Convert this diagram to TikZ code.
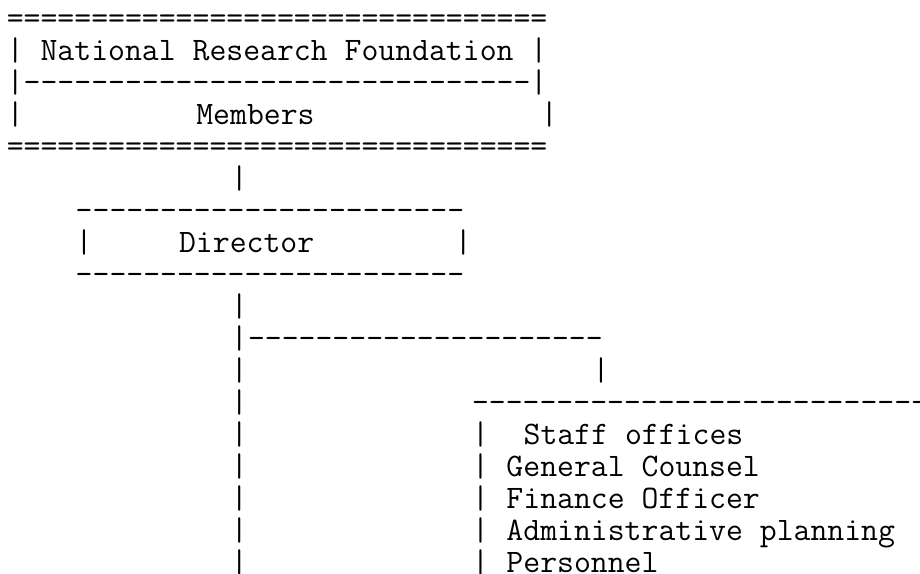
\documentclass[tikz,border=0pt]{standalone}
\usepackage{fontspec}
\setmonofont{Latin Modern Mono}
\tikzset{ascii/.style={inner sep=0pt,anchor=base west,
                       font=\ttfamily\fontsize{16.4pt}{16pt}\selectfont}}
\tikzset{chart/.style={x=8.615pt,y=-16pt,shift={(3.2pt,1.75pt)}}}

\begin{document}
\begin{tikzpicture}
    \useasboundingbox (0pt,0pt) rectangle (460pt,-286.5pt);
    \clip (0pt,0pt) rectangle (460pt,-286.5pt);
    \begin{scope}[chart]
    % Foundation box
    \node[ascii] (nrftop) at (0,1) {================================};
    \node[ascii] (nrf) at (0,2) {| National Research Foundation |};
    \node[ascii] (nrfmid) at (0,3) {|------------------------------|};
    \node[ascii] (nrfleft) at (0,4) {|};
    \node[ascii] (members) at (11,4) {Members};
    \node[ascii] (nrfright) at (31,4) {|};
    \node[ascii] (nrfbot) at (0,5) {================================};
    \node[ascii] (nrfbar) at (13,6) {|};
    % Director box
    \node[ascii] (dirtop) at (4,7) {-----------------------};
    \node[ascii] (dirleft) at (4,8) {|};
    \node[ascii] (director) at (10,8) {Director};
    \node[ascii] (dirright) at (26,8) {|};
    \node[ascii] (dirbot) at (4,9) {-----------------------};
    % Trunk below the director
    \foreach \r in {10,...,18}{%
        \node[ascii] (trunk\r) at (13,\r) {|};
      }
    \node[ascii] (branch) at (14,11) {---------------------};
    \node[ascii] (branchbar) at (34,12) {|};
    % Staff offices
    \node[ascii] (stafftop) at (27,13) {------------------------------};
    \foreach \r in {14,...,18}{%
        \node[ascii] (staffbar\r) at (27,\r) {|};
      }
    \node[ascii] (staff) at (30,14) {Staff offices};
    \foreach \h [count=\hi from 15] in {General Counsel,Finance Officer,
                                         Administrative planning,Personnel}{%
        \node[ascii] (office\hi) at (29,\hi) {\h};
      }
    \end{scope}
\end{tikzpicture}
\end{document}
